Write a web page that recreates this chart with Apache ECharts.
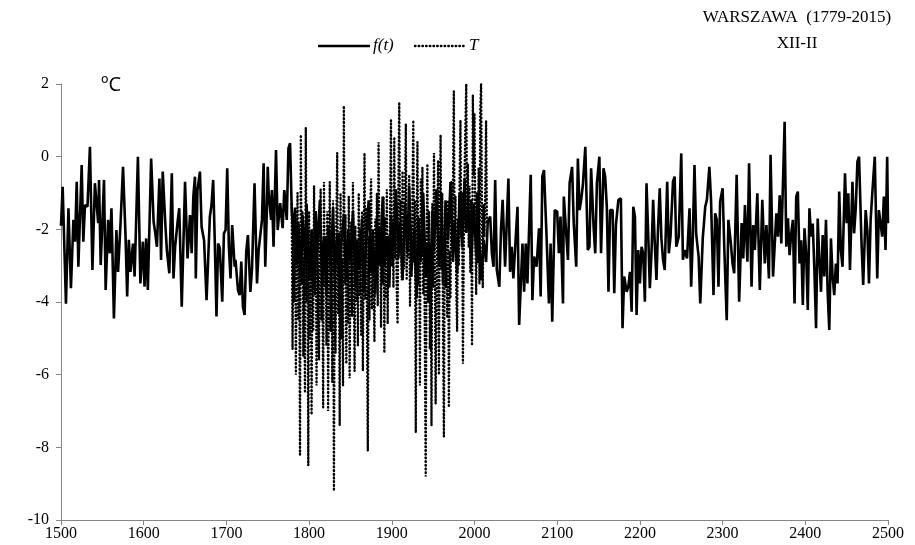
<!DOCTYPE html>
<html>
<head>
<meta charset="utf-8">
<script src="https://cdn.jsdelivr.net/npm/echarts@6/dist/echarts.min.js"></script>
<style>html,body{margin:0;padding:0;background:#fff}#c{width:915px;height:545px}</style>
</head>
<body>
<div id="c"></div>
<script>
// ---- data ----
const xTicks = [1500,1600,1700,1800,1900,2000,2100,2200,2300,2400,2500];
const yTicks = [-10,-8,-6,-4,-2,0,2];
const seriesNames = ['f(t)', 'T'];
const titleLines = ['WARSZAWA  (1779-2015)', 'XII-II'];
const unitLabel = 'ºC';

const fYears = [
1500,1502,1506,1509,1512,1515,1517,1519,1521,1525,1527,1529,1532,1535,1538,1541,1545,1546,1548,1552,1554,1557,1559,1561,1564,1567,1569,1572,1575,1578,
1580,1582,1584,1587,1589,1593,1596,1599,1601,1603,1605,1609,1612,1614,1616,1619,1621,1623,1626,1628,1631,1634,1636,1638,1641,1643,1646,1650,1653,1656,
1658,1660,1662,1663,1665,1668,1670,1673,1676,1680,1682,1684,1686,1688,1690,1692,1695,1697,1699,1701,1703,1705,1707,1710,1711,1714,1716,1718,1720,1722,
1724,1726,1729,1731,1734,1737,1739,1741,1743,1745,1747,1749,1750,1751,1754,1755,1757,1760,1762,1765,1768,1770,1773,1775,1777,1779,1781,
1783,1785,1787,1790,1792,1795,1797,1800,1803,1805,1808,1810,1813,1816,1818,1821,1823,1826,1829,1831,1834,1837,1839,1842,1845,1847,1850,1853,1856,1858,
1861,1864,1866,1869,1872,1875,1877,1880,1883,1886,1889,1891,1894,1897,1899,1902,1905,1908,1910,1913,1916,1919,1921,1924,1927,1930,1932,1935,1938,1941,
1943,1946,1949,1951,1954,1957,1960,1962,1965,1968,1971,1974,1976,1979,1982,1985,1988,1990,1993,1996,1999,2002,2005,2008,2011,2014,2016,
2019,2021,2023,2025,2027,2030,2032,2034,2037,2041,2043,2045,2047,2049,2052,2054,2058,2060,2062,2064,2068,2070,2072,2075,2078,2080,2082,2084,2087,2090,
2092,2094,2097,2100,2102,2104,2107,2108,2111,2113,2115,2118,2120,2123,2125,2127,2129,2131,2134,2137,2139,2141,2144,2146,2148,2151,2153,2156,2158,2160,
2162,2164,2167,2169,2171,2174,2177,2179,2181,2184,2186,2188,2190,2192,2194,2196,2198,
2200,2202,2204,2206,2208,2210,2212,2214,2216,2218,2220,2222,2224,2226,2228,2230,2233,2235,2237,2240,2242,2244,2247,2250,2252,2254,2257,2260,2262,2264,
2266,2268,2271,2273,2276,2279,2281,2284,2286,2289,2291,2293,2295,2297,2300,2302,2305,2307,2310,2312,2314,2317,2320,2323,2325,2327,2330,2332,2335,2337,
2339,2342,2345,2348,2351,2353,2356,2358,
2361,2365,2367,2369,2371,2375,2377,2379,2381,2383,2385,2387,2389,2391,2393,2395,2397,2399,2401,2403,2405,2407,2409,2411,2413,2415,2417,2419,2421,2423,
2425,2427,2429,2431,2433,2435,2437,2439,2441,2443,2445,2448,2450,2452,2454,2457,2459,2461,2463,2465,2468,2470,2473,2475,2477,2479,2481,2484,2487,2489,
2491,2493,2495,2497,2499,2500
];
const fValues = [
-1.9,-0.83,-4.05,-1.42,-3.62,-1.74,-2.34,-0.69,-3.03,-0.23,-2.34,-1.33,-1.38,0.27,-3.12,-0.73,-1.83,-0.64,-2.98,-0.64,-3.67,-1.74,-2.66,-1.42,-4.45,-2.02,-3.17,-1.83,-0.28,-2.16,
-3.85,-2.29,-3.17,-2.39,-3.3,0.0,-3.49,-2.34,-3.58,-2.25,-3.67,-0.05,-1.79,-2.11,-2.48,-0.6,-2.84,-0.41,-1.79,-2.57,-3.21,-0.46,-3.35,-2.48,-1.79,-1.42,-4.13,-0.69,-2.8,-1.61,
-2.66,-1.1,-0.55,-3.35,-0.92,-0.41,-1.93,-2.3,-3.95,-1.65,-1.33,-0.64,-2.39,-4.4,-2.39,-2.52,-3.99,-2.11,-2.02,-0.32,-2.48,-3.35,-1.88,-3.03,-2.84,-3.67,-3.81,-2.89,-4.13,-4.36,
-2.61,-2.16,-3.72,-3.07,-0.73,-3.49,-2.57,-2.16,-1.74,-0.18,-3.03,-1.42,-0.28,-0.96,-1.74,-0.92,-2.48,0.18,-2.02,-1.28,-1.97,-0.92,-1.74,0.23,0.37,-1.47,-2.2,
-1.4,-3.0,-1.8,-3.3,-1.6,-2.8,-1.3,-3.4,-2.0,-3.6,-1.5,-2.6,-1.2,-3.5,-2.2,-3.8,-1.9,-3.0,-1.4,-3.3,-2.1,-3.9,-2.4,-1.6,-3.4,-2.0,-2.9,-1.5,-3.6,-2.3,
-3.1,-1.7,-3.7,-2.4,-1.2,-3.2,-2.0,-3.8,-1.9,-2.7,-1.1,-3.0,-2.2,-3.6,-1.6,-2.5,-0.9,-2.8,-1.8,-3.4,-1.3,-2.6,-0.8,-3.1,-2.0,-3.9,-1.7,-2.9,-1.0,-3.3,
-2.4,-4.0,-1.5,-2.6,-0.9,-3.0,-1.9,-3.5,-1.2,-2.3,-0.7,-2.9,-1.8,-3.2,-1.0,-2.5,-0.6,-2.1,-1.5,-3.0,-1.3,-2.7,-1.9,-3.4,-2.3,-2.9,-1.8,
-1.65,-2.66,-3.03,-0.64,-3.12,-3.58,-2.02,-1.19,-3.03,-0.6,-3.17,-2.48,-3.35,-2.57,-1.38,-4.63,-2.39,-3.72,-2.39,-3.49,-0.5,-3.95,-2.75,-3.03,-1.97,-3.85,-0.55,-0.37,-2.11,-4.04,
-2.39,-4.54,-1.47,-1.51,-2.66,-1.65,-4.04,-1.1,-2.16,-2.84,-0.73,-0.28,-1.83,-3.03,-0.05,-1.47,-1.19,-0.78,0.27,-2.57,-2.48,-0.32,-1.93,-2.66,-0.73,0.0,-2.66,-0.32,-0.55,-1.38,
-3.72,-1.47,-1.47,-3.76,-1.88,-1.19,-1.15,-4.72,-3.3,-3.72,-3.58,-3.17,-4.27,-1.38,-1.65,-4.36,-2.57,
-3.49,-2.48,-2.66,-3.99,-0.73,-2.11,-3.62,-2.66,-1.19,-2.39,-3.39,-1.93,-0.87,-2.25,-2.84,-3.12,-0.69,-2.66,-2.2,-0.69,-0.55,-2.48,-2.2,0.09,-2.84,-2.57,-2.8,-1.42,-3.58,-2.2,
-0.23,-2.11,-2.75,-4.04,-2.25,-1.38,-1.19,-0.28,-1.19,-3.81,-1.56,-1.74,-3.58,-1.24,-0.87,-2.48,-4.5,-1.74,-2.39,-2.94,-3.21,-0.5,-3.99,-1.83,-2.8,-1.33,-2.89,-0.18,-3.58,-1.88,
-2.57,-1.01,-3.67,-1.19,-2.94,-1.88,-3.35,0.05,
-3.3,-1.56,-2.2,-1.06,-2.39,0.96,-2.48,-1.7,-2.71,-2.11,-1.74,-4.04,-1.1,-0.96,-2.94,-2.3,-4.08,-1.97,-2.66,-4.22,-1.42,-2.2,-1.84,-3.12,-4.72,-1.7,-2.84,-3.72,-2.16,-3.3,
-1.74,-3.72,-4.77,-2.25,-3.3,-3.81,-2.94,-3.49,-0.96,-2.57,-3.03,-0.46,-1.83,-1.01,-3.12,-0.69,-2.11,-1.42,-0.14,0.0,-2.39,-3.53,-1.47,-2.02,-3.49,-1.74,-1.01,0.0,-3.35,-1.47,
-1.47,-2.2,-1.1,-2.57,0.0,-1.83
];

const tStartYear = 1779;
const tValues = [
-1.3,-5.3,-2.0,-4.0,-1.5,-6.0,-3.0,-1.0,-4.5,-2.5,-8.2,0.6,-3.5,-1.5,-5.5,-2.8,-6.5,0.8,-4.0,-2.0,
-8.5,-1.5,-5.0,-2.2,-7.1,-3.0,-4.8,-0.8,-3.8,-1.6,-6.3,-2.4,-4.2,-5.6,-2.0,-0.9,-4.5,-2.6,-6.9,-0.7,
-3.6,-2.2,-5.2,-1.5,-7.0,-3.2,-0.7,-4.8,-2.0,-6.2,-1.2,-9.2,-2.6,-5.4,-1.8,0.1,-4.3,-2.1,-7.4,-1.0,
-5.0,-2.8,-6.3,1.4,-3.5,-1.6,-5.7,-2.4,-4.6,-1.1,-6.1,-3.0,-1.8,-4.4,-0.7,-3.2,-5.9,-1.9,-4.0,-2.3,
-5.2,-1.0,-3.8,-2.0,-4.9,-1.5,-5.9,-2.7,0.1,-3.9,-1.4,-4.6,-8.1,-2.2,-4.5,-1.3,-0.6,-4.2,-2.5,-3.6,
-5.1,-1.7,-3.3,-1.0,-4.1,0.4,-3.0,-2.0,-4.7,-1.6,-3.5,-1.1,-5.4,-1.7,-3.9,-0.9,-4.6,-2.2,-3.3,-1.3,
1.0,-3.0,-1.8,-3.6,0.5,-2.8,-1.4,-3.7,-4.6,-0.8,1.5,-2.6,-1.2,-3.4,-0.4,-2.4,-3.1,-1.0,0.9,-3.4,
-1.6,-2.8,-0.5,-4.1,-1.9,-3.3,-1.1,1.0,-2.9,-1.2,-7.6,-2.0,0.4,-3.5,-1.7,-6.3,-0.6,-2.7,-0.3,-3.8,
-2.0,-5.2,-8.8,-3.0,-0.2,-4.0,-1.5,-5.3,-2.4,-7.4,-1.3,-3.6,0.1,-2.9,-6.8,-4.2,-2.2,-0.1,-6.0,-1.8,
0.6,-3.1,-1.0,-4.8,-7.7,-1.9,-3.6,-2.1,-4.4,-1.2,-6.9,-2.6,-3.9,-0.7,-2.3,-0.9,1.8,-2.5,-1.1,-3.7,
-4.8,-1.7,-3.0,-0.6,1.0,-2.2,-1.0,-5.7,-2.6,-0.4,0.8,2.0,-1.6,-0.2,-2.5,-0.8,-3.2,-1.2,-5.2,1.7,
-0.5,1.2,-2.0,-3.8,-1.0,-2.9,-0.3,-3.5,1.3,2.0,-1.5,-3.6,-1.3,-2.2,-0.9,1.0,-1.8
];

// ---- build series data ----
const fData = fYears.map((y, i) => [y, fValues[i]]);
const tData = tValues.map((v, i) => [tStartYear + i, v]);

const serif = '"Liberation Serif", "Times New Roman", serif';
const gray = '#868686';
const chart = echarts.init(document.getElementById('c'), null, {renderer: 'canvas'});
chart.setOption({
  animation: false,
  backgroundColor: '#ffffff',
  grid: {left: 61, right: 27, top: 84, bottom: 25, containLabel: false},
  graphic: [
    {type: 'text', x: 101, y: 75, style: {text: unitLabel, font: '20px "Open Sans", sans-serif', fill: '#000'}},
    {type: 'text', x: 797, y: 18, style: {text: titleLines[0], font: '17px ' + serif, fill: '#000', align: 'center', verticalAlign: 'middle'}},
    {type: 'text', x: 797, y: 44, style: {text: titleLines[1], font: '17px ' + serif, fill: '#000', align: 'center', verticalAlign: 'middle'}},
    {type: 'line', shape: {x1: 318, y1: 46, x2: 370, y2: 46}, style: {stroke: '#000', lineWidth: 2.5}},
    {type: 'text', x: 373, y: 46, style: {text: seriesNames[0], font: 'italic 17px ' + serif, fill: '#000', verticalAlign: 'middle'}},
    {type: 'line', shape: {x1: 415, y1: 46, x2: 466, y2: 46}, style: {stroke: '#000', lineWidth: 2.4, lineDash: [0.5, 3.2], lineCap: 'round'}},
    {type: 'text', x: 469, y: 46, style: {text: seriesNames[1], font: 'italic 17px ' + serif, fill: '#000', verticalAlign: 'middle'}}
  ],
  xAxis: {
    type: 'value', min: xTicks[0], max: xTicks[xTicks.length - 1], interval: 100,
    axisLine: {show: true, onZero: false, lineStyle: {color: gray, width: 1}},
    axisTick: {show: true, length: 5, lineStyle: {color: gray}},
    splitLine: {show: false},
    axisLabel: {margin: 6, color: '#000', fontFamily: serif, fontSize: 16, formatter: v => String(v)}
  },
  yAxis: {
    type: 'value', min: yTicks[0], max: yTicks[yTicks.length - 1], interval: 2,
    axisLine: {show: true, lineStyle: {color: gray, width: 1}},
    axisTick: {show: true, length: 5, lineStyle: {color: gray}},
    splitLine: {show: false},
    axisLabel: {margin: 12, color: '#000', fontFamily: serif, fontSize: 16}
  },
  series: [
    {name: seriesNames[0], type: 'line', data: fData, symbol: 'none', smooth: false,
     lineStyle: {color: '#000', width: 2.6}, itemStyle: {color: '#000'}},
    {name: seriesNames[1], type: 'line', data: tData, symbol: 'none', smooth: false,
     lineStyle: {color: '#000', width: 2.4, type: [0.5, 3.2], cap: 'round'}, itemStyle: {color: '#000'}}
  ]
});
</script>
</body>
</html>
